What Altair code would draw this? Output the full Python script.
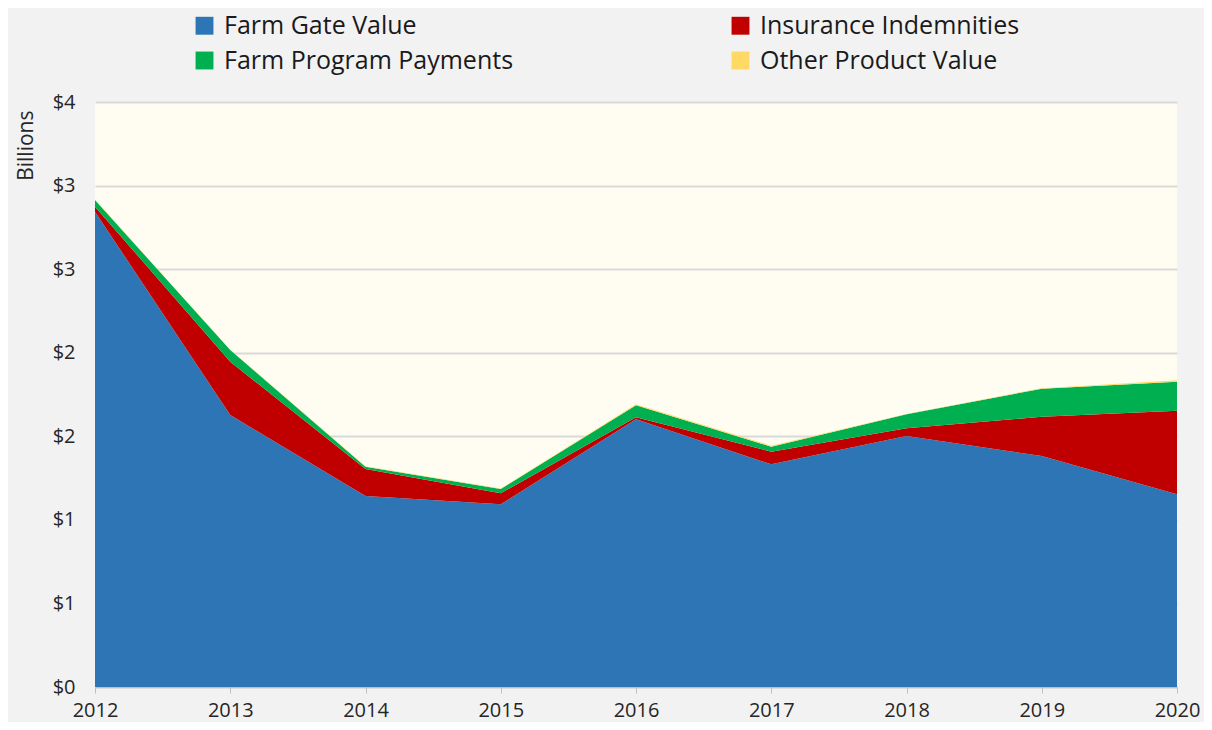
import altair as alt
import pandas as pd

years = [2012, 2013, 2014, 2015, 2016, 2017, 2018, 2019, 2020]
farm_gate = [2.844, 1.627, 1.143, 1.093, 1.602, 1.332, 1.502, 1.382, 1.153]
insurance = [0.030, 0.319, 0.161, 0.066, 0.012, 0.076, 0.046, 0.235, 0.500]
program = [0.040, 0.070, 0.014, 0.026, 0.072, 0.030, 0.084, 0.168, 0.174]
other = [0.002, 0.002, 0.002, 0.002, 0.005, 0.006, 0.002, 0.003, 0.008]

series = ["Farm Gate Value", "Insurance Indemnities", "Farm Program Payments", "Other Product Value"]
colors = ["#2E75B6", "#C00000", "#00B050", "#FFD966"]
y_ticks = [0, 0.5, 1, 1.5, 2, 2.5, 3, 3.5]

rows = []
for i, s in enumerate(series):
    vals = [farm_gate, insurance, program, other][i]
    for y, v in zip(years, vals):
        rows.append({"Year": y, "Series": s, "Value": v, "order": i})
df = pd.DataFrame(rows)

FONT = "Open Sans"

chart = alt.Chart(df).mark_area(opacity=1).encode(
    x=alt.X("Year:Q",
            scale=alt.Scale(domain=[2012, 2020], nice=False, zero=False),
            axis=alt.Axis(values=years, format="d", title=None, grid=False,
                          labelFontSize=20, labelFont=FONT, labelColor="#262626",
                          labelPadding=7, tickColor="#BFBFBF", tickSize=6,
                          domainColor="#BFBFBF", domainWidth=1.5, labelFlush=False)),
    y=alt.Y("Value:Q", stack="zero",
            scale=alt.Scale(domain=[0, 3.5], nice=False),
            axis=alt.Axis(values=y_ticks, labelExpr="'$' + round(datum.value)",
                          title="Billions", titleFont=FONT, titleFontSize=21,
                          titleFontWeight="normal", titleColor="#262626",
                          titleAngle=-90, titleX=-80, titleY=8,
                          titleAlign="right", titleBaseline="top",
                          labelFontSize=20, labelFont=FONT, labelColor="#262626",
                          labelPadding=20, ticks=False, domain=False,
                          gridColor="#D9D9D9", gridWidth=2)),
    color=alt.Color("Series:N",
                    scale=alt.Scale(domain=series, range=colors),
                    legend=alt.Legend(title=None, orient="none", legendX=97, legendY=-89,
                                      columns=2, direction="horizontal",
                                      columnPadding=214, rowPadding=9,
                                      symbolType="square", symbolSize=320,
                                      labelFont=FONT, labelFontSize=25, labelColor="#1A1A1A",
                                      labelOffset=7, labelLimit=1000, symbolStrokeWidth=0)),
    order=alt.Order("order:Q", sort="ascending"),
).properties(
    width=1082, height=585,
    background="#F2F2F2",
    padding={"left": 87, "top": 94, "right": 27, "bottom": 35},
    autosize=alt.AutoSizeParams(type="none"),
).configure_view(
    fill="#FFFCF2", stroke=None
)

chart.save("out.html", embed_options={"renderer": "svg", "actions": False})
